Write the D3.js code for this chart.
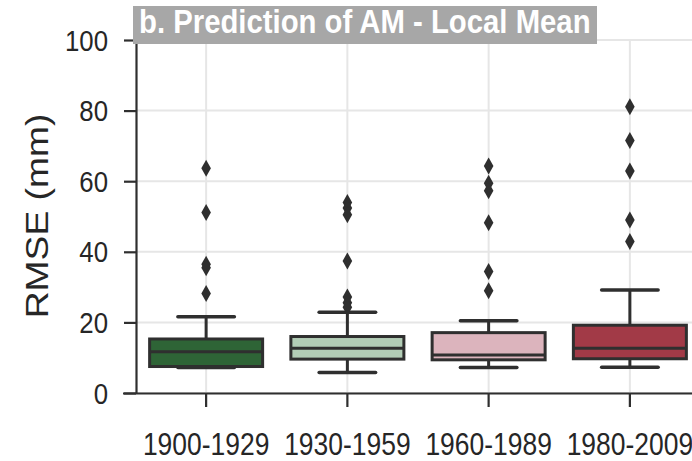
<!DOCTYPE html>
<html><head><meta charset="utf-8">
<script src="https://cdn.jsdelivr.net/npm/d3@7"></script>
<style>body{margin:0;background:#fff}svg{display:block}</style>
</head><body>
<svg id="c" width="692" height="461"></svg>
<script>
const categories = ["1900-1929","1930-1959","1960-1989","1980-2009"];
const whiskerLow  = [7.2, 5.8, 7.2, 7.3];
const q1          = [7.5, 9.6, 9.4, 9.7];
const medians     = [11.7, 12.7, 10.8, 12.7];
const q3          = [15.3, 16.0, 17.1, 19.2];
const whiskerHigh = [21.6, 22.9, 20.5, 29.2];
const outliers = [
  [63.7, 51.1, 36.5, 35.5, 28.2],
  [54.0, 52.4, 50.5, 37.4, 27.2, 25.6, 24.3],
  [64.3, 59.4, 57.3, 48.2, 34.4, 29.0],
  [81.1, 71.5, 62.9, 49.0, 42.9]
];
const colors = ["#2e6436", "#b2cdb6", "#dcb4bd", "#a23a47"];
const yTicks = [0, 20, 40, 60, 80, 100];
const titleText = "b. Prediction of AM - Local Mean";
const yLabel = "RMSE (mm)";

const svg = d3.select("#c");
const FONT = "'Liberation Sans', Arial, Helvetica, sans-serif";
const x = d3.scaleBand().domain(categories).range([135.5, 700.5]).padding(0);
const y = d3.scaleLinear().domain([0, 100]).range([393, 40]);
const ink = "#2f2f2f";

// grid
svg.append("g").selectAll("line").data(yTicks).join("line")
  .attr("x1", 136).attr("x2", 692).attr("y1", d => y(d)).attr("y2", d => y(d))
  .attr("stroke", "#e6e6e6").attr("stroke-width", 2);
svg.append("g").selectAll("line").data(categories).join("line")
  .attr("x1", d => x(d) + x.bandwidth()/2).attr("x2", d => x(d) + x.bandwidth()/2)
  .attr("y1", y(100)).attr("y2", y(0))
  .attr("stroke", "#e6e6e6").attr("stroke-width", 2);

// axes
const yAxis = svg.append("g").attr("transform", "translate(136,0)")
  .call(d3.axisLeft(y).tickValues(yTicks).tickSize(12).tickPadding(0).tickFormat(d => ""));
const xAxis = svg.append("g").attr("transform", "translate(0,393)")
  .call(d3.axisBottom(x).tickSize(14).tickFormat(d => ""));
[yAxis, xAxis].forEach(a => {
  a.select(".domain").attr("stroke", ink).attr("stroke-width", 2.2);
  a.selectAll(".tick line").attr("stroke", ink).attr("stroke-width", 2.2);
});
xAxis.select(".domain").attr("d", "M123,0.5H692");
yAxis.select(".domain").attr("d", "M0.5," + y(100) + "V" + y(0));

// tick labels (horizontally condensed)
svg.append("g").selectAll("text").data(yTicks).join("text")
  .attr("transform", d => `translate(108,${y(d) + 10.5}) scale(0.86,1)`)
  .attr("text-anchor", "end").attr("font-family", FONT).attr("font-size", 30)
  .attr("fill", "#262626").text(d => d);
svg.append("g").selectAll("text").data(categories).join("text")
  .attr("transform", d => `translate(${x(d) + x.bandwidth()/2},455) scale(0.84,1)`)
  .attr("text-anchor", "middle").attr("font-family", FONT).attr("font-size", 31.5)
  .attr("fill", "#262626").text(d => d);

// y label
svg.append("text")
  .attr("transform", "translate(48,216) scale(1,1.2) rotate(-90)")
  .attr("text-anchor", "middle").attr("font-family", FONT).attr("font-size", 31)
  .attr("fill", "#262626").text(yLabel);

// boxes
const bw = x.bandwidth() * 0.8;
categories.forEach((c, i) => {
  const cx = x(c) + x.bandwidth()/2;
  const g = svg.append("g");
  g.append("line").attr("x1", cx).attr("x2", cx).attr("y1", y(q3[i])).attr("y2", y(whiskerHigh[i]))
    .attr("stroke", ink).attr("stroke-width", 3);
  g.append("line").attr("x1", cx).attr("x2", cx).attr("y1", y(q1[i])).attr("y2", y(whiskerLow[i]))
    .attr("stroke", ink).attr("stroke-width", 3);
  [whiskerHigh[i], whiskerLow[i]].forEach(v => {
    g.append("line").attr("x1", cx - bw/4).attr("x2", cx + bw/4).attr("y1", y(v)).attr("y2", y(v))
      .attr("stroke", ink).attr("stroke-width", 3.5).attr("stroke-linecap", "round");
  });
  g.append("rect").attr("x", cx - bw/2).attr("width", bw)
    .attr("y", y(q3[i])).attr("height", y(q1[i]) - y(q3[i]))
    .attr("fill", colors[i]).attr("stroke", ink).attr("stroke-width", 3);
  g.append("line").attr("x1", cx - bw/2).attr("x2", cx + bw/2).attr("y1", y(medians[i])).attr("y2", y(medians[i]))
    .attr("stroke", ink).attr("stroke-width", 3);
  g.selectAll("path").data(outliers[i]).join("path")
    .attr("d", "M0,-8.5L4.8,0L0,8.5L-4.8,0Z")
    .attr("transform", v => `translate(${cx},${y(v)})`)
    .attr("fill", ink);
});

// title box
svg.append("rect").attr("x", 133).attr("y", 6).attr("width", 464).attr("height", 38).attr("fill", "#a7a7a7");
svg.append("text")
  .attr("transform", "translate(139,33) scale(0.875,1)")
  .attr("font-family", FONT).attr("font-weight", "bold").attr("font-size", 33.5)
  .attr("fill", "#ffffff").text(titleText);
</script>
</body></html>
